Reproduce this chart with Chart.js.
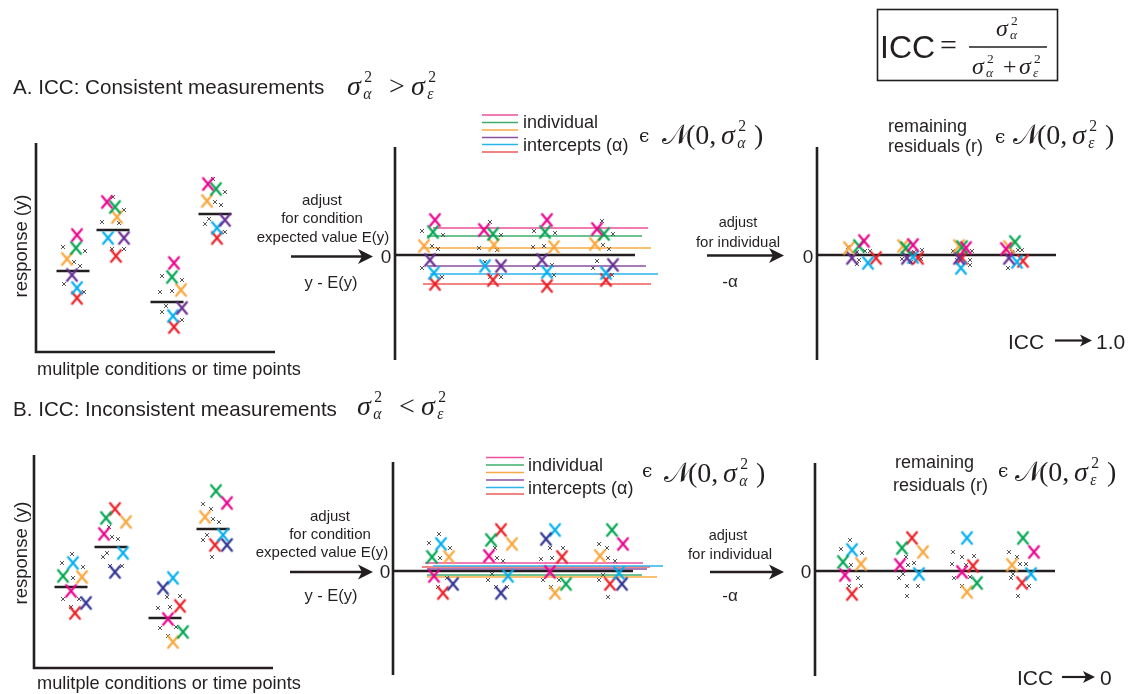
<!DOCTYPE html>
<html>
<head>
<meta charset="utf-8">
<script src="https://cdn.jsdelivr.net/npm/chart.js@4.4.1/dist/chart.umd.min.js"></script>
<style>
html,body{margin:0;padding:0;background:#fff;}
#stage{position:relative;width:1135px;height:694px;overflow:hidden;background:#fff;
  font-family:"Liberation Sans",Arial,Helvetica,sans-serif;color:#231f20;}
#stage canvas{position:absolute;left:0;top:0;}
#stage svg{position:absolute;left:0;top:0;}
.t{position:absolute;white-space:nowrap;line-height:1;}
</style>
</head>
<body>
<div id="stage">
<svg width="1135" height="694" viewBox="0 0 1135 694">
  <g stroke="#231f20" fill="none" stroke-width="2.5">
    <line x1="291" y1="256.5" x2="362" y2="256.5"/>
    <line x1="707" y1="255.5" x2="773" y2="255.5"/>
    <line x1="290" y1="572" x2="362" y2="572"/>
    <line x1="710" y1="572" x2="773" y2="572"/>
    <line x1="1055" y1="340.5" x2="1083" y2="340.5" stroke-width="2.2"/>
    <line x1="1062" y1="677" x2="1086" y2="677" stroke-width="2.2"/>
  </g>
  <g fill="#231f20">
    <polygon points="373,256.5 358,249 362,256.5 358,264"/>
    <polygon points="784,255.5 769,248 773,255.5 769,263"/>
    <polygon points="373,572 358,564.5 362,572 358,579.5"/>
    <polygon points="784,572 769,564.5 773,572 769,579.5"/>
    <polygon points="1092,340.5 1080,334.5 1083,340.5 1080,346.5"/>
    <polygon points="1095,677 1083,671 1086,677 1083,683"/>
  </g>
  <!-- legend swatches for the individual intercept lines -->
  <g stroke-width="1.6">
    <line x1="482" x2="518" y1="115" y2="115" stroke="#ec4f9d"/>
    <line x1="482" x2="518" y1="122.5" y2="122.5" stroke="#3dae6a"/>
    <line x1="482" x2="518" y1="130" y2="130" stroke="#f7ab45"/>
    <line x1="482" x2="518" y1="137.5" y2="137.5" stroke="#8a4f9e"/>
    <line x1="482" x2="518" y1="144.5" y2="144.5" stroke="#2bb3ea"/>
    <line x1="482" x2="518" y1="152" y2="152" stroke="#ef5b5b"/>
    <line x1="486" x2="524" y1="457.5" y2="457.5" stroke="#ec4f9d"/>
    <line x1="486" x2="524" y1="465" y2="465" stroke="#3dae6a"/>
    <line x1="486" x2="524" y1="472.5" y2="472.5" stroke="#f7ab45"/>
    <line x1="486" x2="524" y1="480" y2="480" stroke="#8a4f9e"/>
    <line x1="486" x2="524" y1="487.5" y2="487.5" stroke="#2bb3ea"/>
    <line x1="486" x2="524" y1="494" y2="494" stroke="#ef5b5b"/>
  </g>
  <!-- ICC definition box -->
  <rect x="877.5" y="9.5" width="180" height="71" fill="none" stroke="#231f20" stroke-width="1.6"/>
  <line x1="969" x2="1047" y1="47" y2="47" stroke="#231f20" stroke-width="1.3"/>
</svg>
</div>
<script>
// ---------------- data ----------------
// individuals (colour identities), in drawing order
const individuals = ['pink', 'green', 'orange', 'purple', 'blue', 'red'];

// A. consistent measurements: raw responses [time point position, response]
const rawA_pink   = [[41,117],[71,150],[138,89],[172,168]];
const rawA_green  = [[40,104],[79,145],[136,75],[180,163]];
const rawA_orange = [[31,93],[81,135],[145,62],[171,151]];
const rawA_purple = [[36,77],[88,114],[146,44],[189,132]];
const rawA_blue   = [[41,64],[72,114],[137,36],[181,124]];
const rawA_red    = [[41,54],[80,96],[138,25],[181,114]];
const rawA_other  = [[27,105],[49,101],[38,90],[44,86],[28,68],[48,60],
                     [77,155],[88,142],[66,130],[83,129],[76,103],[88,103],
                     [126,76],[146,72],[124,60],[136,61],[130,46],[126,40],[146,32],
                     [177,173],[189,160],[179,150],[185,147],[173,133],[169,128],[189,120]];
const condX_A    = [37, 77, 131, 179];
const condMean_A = [81, 122, 50, 138];

// A. after removing the condition expected value, y - E(y)
const cenA_pink   = [[40,35],[89,25],[152,35],[202,26]];
const cenA_green  = [[38,23],[98,21],[150,23],[209,21]];
const cenA_orange = [[29,9],[99,10],[159,8],[200,11]];
const cenA_purple = [[35,-5],[106,-11],[147,-5],[218,-10]];
const cenA_blue   = [[39,-18],[90,-11],[152,-17],[211,-18]];
const cenA_red    = [[40,-29],[98,-25],[152,-31],[211,-25]];
const cenA_other  = [[27,24],[48,20],[37,9],[43,6],[27,-13],[47,-22],
                     [95,33],[106,20],[84,7],[102,5],[90,-7],[95,-22],[106,-22],
                     [139,24],[160,22],[138,8],[149,9],[139,-13],[157,-10],[159,-20],
                     [207,34],[218,21],[208,10],[214,6],[202,-6],[198,-13],[217,-20]];
const alphaA = [27, 19, 7, -11, -19, -29];   // individual intercepts

// A. remaining residuals
const resA_pink   = [[47,14],[96,10],[149,7],[189,6]];
const resA_green  = [[42,9],[89,7],[145,8],[198,13]];
const resA_orange = [[32,7],[86,9],[142,9],[192,8]];
const resA_purple = [[35,-3],[90,-3],[142,-3],[192,-3]];
const resA_blue   = [[51,-8],[96,-2],[144,-13],[200,-7]];
const resA_red    = [[59,-3],[101,-3],[145,-3],[206,-6]];
const resA_other  = [[40,3],[48,4],[53,4],[40,-9],[42,-5],[31,8],
                     [105,5],[97,3],[85,-4],[104,-4],[94,-7],
                     [136,4],[155,4],[140,-5],[153,-5],[153,-10],
                     [201,5],[205,5],[191,-13],[195,3]];

// B. inconsistent measurements: raw responses
const rawB_pink   = [[37,77],[70,134],[134,49],[193,165]];
const rawB_green  = [[29,92],[72,150],[149,36],[182,177]];
const rawB_orange = [[48,91],[92,146],[139,26],[171,151]];
const rawB_purple = [[52,65],[81,96],[129,80],[193,123]];
const rawB_blue   = [[39,105],[89,115],[139,90],[189,133]];
const rawB_red    = [[41,55],[81,159],[146,62],[181,123]];
const rawB_other  = [[38,114],[28,105],[49,101],[39,90],[29,69],[45,69],[37,61],
                     [75,141],[78,131],[84,129],[69,111],[73,115],[76,102],[88,102],
                     [133,71],[146,72],[124,60],[136,61],[126,40],[142,41],[134,32],
                     [169,164],[177,159],[179,149],[185,146],[169,128],[173,133],[178,111]];
const condX_B    = [37, 77, 131, 179];
const condMean_B = [81, 121, 50, 139];

// B. after removing the condition expected value
const cenB_pink   = [[41,-5],[96,15],[157,-1],[230,27]];
const cenB_green  = [[39,14],[98,31],[173,-13],[219,41]];
const cenB_orange = [[56,14],[119,27],[162,-22],[207,15]];
const cenB_purple = [[60,-13],[108,-22],[153,32],[229,-13]];
const cenB_blue   = [[48,27],[115,-5],[162,41],[226,-2]];
const cenB_red    = [[50,-22],[108,41],[169,14],[217,-13]];
const cenB_other  = [[46,37],[36,28],[57,23],[47,13],[54,-7],[45,-16],
                     [102,23],[104,13],[110,10],[99,-3],[95,-9],[103,-16],[114,-16],
                     [157,23],[170,23],[148,12],[159,13],[150,-9],[166,-9],[158,-16],
                     [206,27],[214,23],[215,13],[222,10],[206,-9],[210,-4],[215,-26]];
const alphaB = [8, -4, -6, 2, 5, 4];

// B. remaining residuals
const resB_pink   = [[30,-4],[85,6],[147,-1],[219,19]];
const resB_green  = [[28,9],[87,23],[162,-12],[208,33]];
const resB_orange = [[46,7],[108,19],[152,-21],[197,6]];
const resB_blue   = [[37,21],[104,-3],[152,33],[216,-3]];
const resB_red    = [[37,-23],[97,33],[158,5],[207,-12]];
const resB_other  = [[35,31],[26,22],[47,18],[36,6],[43,-7],[34,-15],[46,-15],
                     [91,14],[93,6],[99,8],[84,-7],[88,-3],[92,-15],[103,-15],[92,-25],
                     [138,19],[147,14],[159,15],[137,7],[151,6],[155,-6],[139,-7],[147,-15],
                     [194,19],[202,14],[205,7],[211,7],[196,-7],[198,-3],[214,-15],[203,-25]];

// ---------------- styles ----------------
const markColorA = {pink:'#ec008c', green:'#00a651', orange:'#f9a53a', purple:'#662d91', blue:'#00aeef', red:'#ed1c24'};
const markColorB = {pink:'#ec008c', green:'#00a651', orange:'#f9a53a', purple:'#2e3192', blue:'#00aeef', red:'#ed1c24'};
const lineColor  = {pink:'#ec4f9d', green:'#3dae6a', orange:'#f7ab45', purple:'#8a4f9e', blue:'#2bb3ea', red:'#ef5b5b'};
const INK = '#231f20';
// horizontal reach of each intercept line (x units)
const spanA = [[38,253],[32,247],[28,256],[32,251],[35,263],[28,256]];
const spanB = [[32,250],[34,249],[34,264],[34,254],[40,270],[29,257]];

const W = 1135, H = 694;
const stage = document.getElementById('stage');

// glyph images used as point styles: a large coloured X and a small grey x
function crossGlyph(color, w, h, lw) {
  const pad = Math.ceil(lw);
  const c = document.createElement('canvas');
  c.width = w + 2 * pad; c.height = h + 2 * pad;
  const g = c.getContext('2d');
  g.strokeStyle = color; g.lineWidth = lw; g.lineCap = 'butt';
  g.beginPath();
  g.moveTo(pad, pad); g.lineTo(pad + w, pad + h);
  g.moveTo(pad + w, pad); g.lineTo(pad, pad + h);
  g.stroke();
  return c;
}
const smallX = crossGlyph('#555', 4, 4, 1);
const bigX = {};
function bigGlyph(color) {
  if (!bigX[color]) bigX[color] = crossGlyph(color, 11, 13, 2.1);
  return bigX[color];
}

const pts = arr => arr.map(p => ({x: p[0], y: p[1]}));

function markSet(arr, color) {
  return {type: 'scatter', data: pts(arr), pointStyle: bigGlyph(color), pointRadius: 6,
          clip: false, order: 0};
}
function otherSet(arr) {
  return {type: 'scatter', data: pts(arr), pointStyle: smallX, pointRadius: 3, clip: false, order: 1};
}
function segSet(points, color, width, order) {
  return {type: 'line', data: points, borderColor: color, borderWidth: width, pointRadius: 0,
          showLine: true, fill: false, tension: 0, clip: false, order: order};
}

function panel(area, xr, yr, datasets) {
  const cv = document.createElement('canvas');
  cv.width = W; cv.height = H;
  stage.appendChild(cv);
  new Chart(cv, {
    type: 'scatter',
    data: {datasets},
    options: {
      responsive: false, animation: false, devicePixelRatio: 1, events: [],
      layout: {padding: {left: area.l, right: W - area.r, top: area.t, bottom: H - area.b}},
      scales: {
        x: {type: 'linear', display: false, min: xr[0], max: xr[1]},
        y: {type: 'linear', display: false, min: yr[0], max: yr[1]}
      },
      plugins: {legend: {display: false}, tooltip: {enabled: false}}
    }
  });
}

// raw panel: L-shaped axes, condition means, observations
function rawPanel(area, xr, yr, series, other, condX, condMean, colors) {
  const ds = [];
  ds.push(segSet([{x: 0, y: yr[1]}, {x: 0, y: 0}, {x: xr[1], y: 0}], INK, 2.6, 3));
  condX.forEach((cx, i) => {
    ds.push(segSet([{x: cx - 16.5, y: condMean[i]}, {x: cx + 16.5, y: condMean[i]}], INK, 2.6, 2));
  });
  ds.push(otherSet(other));
  individuals.forEach((k, i) => { if (series[i]) ds.push(markSet(series[i], colors[k])); });
  panel(area, xr, yr, ds);
}

// centred panel: vertical axis, zero line, optional intercept lines
function zeroPanel(area, xr, yr, zeroEnd, series, other, colors, alpha, span) {
  const ds = [];
  ds.push(segSet([{x: 0, y: yr[1]}, {x: 0, y: yr[0]}], INK, 2.6, 3));
  ds.push(segSet([{x: 0, y: 0}, {x: zeroEnd, y: 0}], INK, 2.6, 3));
  if (alpha) {
    alpha.forEach((a, i) => {
      ds.push(segSet([{x: span[i][0], y: a}, {x: span[i][1], y: a}], lineColor[individuals[i]], 1.7, 2));
    });
  }
  ds.push(otherSet(other));
  individuals.forEach((k, i) => { if (series[i]) ds.push(markSet(series[i], colors[k])); });
  panel(area, xr, yr, ds);
}

rawPanel({l: 36, r: 275, t: 143, b: 352}, [0, 239], [0, 209],
  [rawA_pink, rawA_green, rawA_orange, rawA_purple, rawA_blue, rawA_red], rawA_other,
  condX_A, condMean_A, markColorA);
zeroPanel({l: 395, r: 660, t: 147, b: 360}, [0, 265], [-105, 108], 240,
  [cenA_pink, cenA_green, cenA_orange, cenA_purple, cenA_blue, cenA_red], cenA_other,
  markColorA, alphaA, spanA);
zeroPanel({l: 817, r: 1057, t: 147, b: 360}, [0, 240], [-105, 108], 239,
  [resA_pink, resA_green, resA_orange, resA_purple, resA_blue, resA_red], resA_other,
  markColorA, null, null);

rawPanel({l: 34, r: 273, t: 455, b: 668}, [0, 239], [0, 213],
  [rawB_pink, rawB_green, rawB_orange, rawB_purple, rawB_blue, rawB_red], rawB_other,
  condX_B, condMean_B, markColorB);
zeroPanel({l: 393, r: 663, t: 462, b: 675}, [0, 270], [-104, 109], 240,
  [cenB_pink, cenB_green, cenB_orange, cenB_purple, cenB_blue, cenB_red], cenB_other,
  markColorB, alphaB, spanB);
zeroPanel({l: 815, r: 1055, t: 463, b: 676}, [0, 240], [-105, 108], 240,
  [resB_pink, resB_green, resB_orange, null, resB_blue, resB_red], resB_other,
  markColorB, null, null);

// ---------------- text ----------------
const SERIF = '"Liberation Serif","Times New Roman",serif';
function T(text, x, y, size, o = {}) {
  const d = document.createElement('div');
  d.className = 't';
  d.textContent = text;
  d.style.left = x + 'px';
  d.style.top = y + 'px';
  d.style.fontSize = size + 'px';
  if (o.serif) d.style.fontFamily = SERIF;
  if (o.italic) d.style.fontStyle = 'italic';
  if (o.family) d.style.fontFamily = o.family;
  let tx = o.center ? '-50%' : '0';
  let tf = 'translate(' + tx + ',-50%)';
  if (o.rotate) tf += ' rotate(' + o.rotate + 'deg)';
  d.style.transform = tf;
  stage.appendChild(d);
  return d;
}
// sigma with superscript 2 and a subscript
function sigma(x, y, size, sub) {
  T('σ', x, y, size, {serif: true, italic: true});
  T('2', x + 0.62 * size, y - 0.31 * size, size * 0.56, {serif: true});
  T(sub, x + 0.58 * size, y + 0.3 * size, size * 0.56, {serif: true, italic: true});
}
// "ϵ 𝒩(0, σ²_sub)"
function normalOf(x, y, size, sub, epsX, epsY) {
  T('ϵ', epsX, epsY, size * 0.66, {family: '"DejaVu Serif",serif'});
  T('𝒩', x, y, size, {family: '"DejaVu Serif","DejaVu Sans",serif'});
  T('(0,', x + 24, y, size, {serif: true});
  sigma(x + 59, y, size, sub);
  T(')', x + 92, y, size, {serif: true});
}

// section A
T('A. ICC: Consistent measurements', 13, 87, 20.6);
sigma(347, 86, 28, 'α');
T('>', 389, 86, 28, {serif: true});
sigma(411, 86, 28, 'ε');
T('response (y)', 21, 246, 18.5, {center: true, rotate: -90});
T('mulitple conditions or time points', 37, 369, 18.2);
T('adjust', 322, 199, 15, {center: true});
T('for condition', 322, 217, 15, {center: true});
T('expected value E(y)', 323, 236, 15, {center: true});
T('y - E(y)', 331, 282, 16.5, {center: true});
T('0', 386, 256, 19, {center: true});
T('individual', 523, 122, 18);
T('intercepts (α)', 523, 145, 18);
normalOf(662, 135, 28, 'α', 639, 136);
T('adjust', 738, 222, 14.5, {center: true});
T('for individual', 738, 241, 15, {center: true});
T('-α', 730, 281, 17, {center: true});
T('0', 808, 256, 19, {center: true});
T('remaining', 888, 126, 18);
T('residuals (r)', 888, 146, 18);
normalOf(1013, 135, 28, 'ε', 995, 137);
T('ICC', 1008, 341, 21);
T('1.0', 1096, 341, 21);

// ICC definition
T('ICC', 880, 47, 32);
T('=', 940, 45, 30, {serif: true});
sigma(996, 28, 24, 'α');
sigma(972, 66, 24, 'α');
T('+', 1003, 66, 24, {serif: true});
sigma(1019, 66, 24, 'ε');

// section B
T('B. ICC: Inconsistent measurements', 13, 409, 20.6);
sigma(357, 406, 28, 'α');
T('<', 399, 406, 28, {serif: true});
sigma(421, 406, 28, 'ε');
T('response (y)', 21, 553, 18.5, {center: true, rotate: -90});
T('mulitple conditions or time points', 37, 683, 18.2);
T('adjust', 330, 515, 15, {center: true});
T('for condition', 330, 533, 15, {center: true});
T('expected value E(y)', 322, 551, 15, {center: true});
T('y - E(y)', 331, 595, 16.5, {center: true});
T('0', 385, 571, 19, {center: true});
T('individual', 528, 465, 18);
T('intercepts (α)', 528, 488, 18);
normalOf(664, 473, 28, 'α', 642, 471);
T('adjust', 728, 535, 14.5, {center: true});
T('for individual', 730, 553, 15, {center: true});
T('-α', 730, 595, 17, {center: true});
T('0', 806, 571, 19, {center: true});
T('remaining', 895, 462, 18);
T('residuals (r)', 893, 485, 18);
normalOf(1015, 472, 28, 'ε', 998, 471);
T('ICC', 1017, 677, 21);
T('0', 1100, 677, 21);
</script>
</body>
</html>
